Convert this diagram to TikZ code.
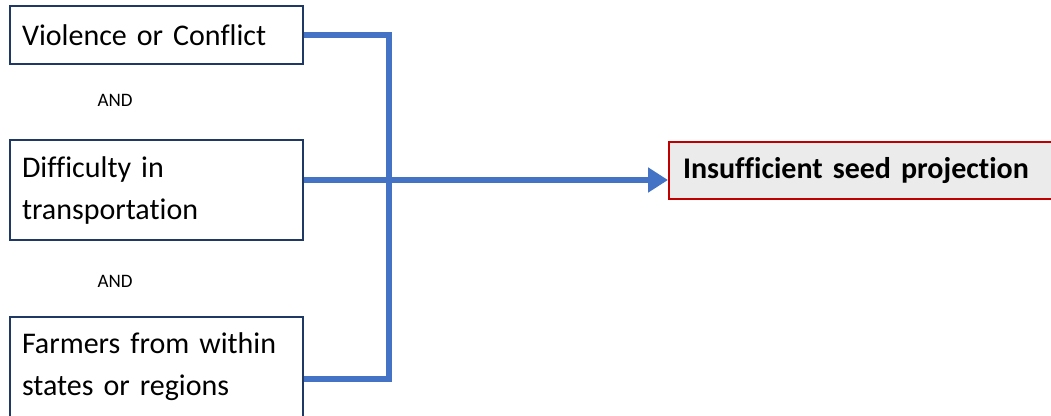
\documentclass[tikz,border=0pt]{standalone}
\usepackage{fontspec}
\setmainfont[Ligatures=CommonOff]{Carlito}
\usetikzlibrary{arrows.meta}
\definecolor{linkblue}{HTML}{4472C4}
\definecolor{boxblue}{HTML}{203864}
\definecolor{outred}{HTML}{C00000}
\definecolor{outgray}{HTML}{EBEBEB}
\begin{document}
\begin{tikzpicture}
[x=1pt,y=-1pt,
 cause/.style={draw=boxblue,line width=2pt,anchor=north west,text width=269pt,
   align=left,inner xsep=12pt,font=\fontsize{30}{42}\selectfont},
 effect/.style={draw=outred,fill=outgray,line width=2pt,anchor=north west,
   text width=406pt,align=left,inner xsep=14pt,minimum height=57pt,
   font=\fontsize{30}{34}\selectfont\bfseries},
 andlabel/.style={font=\fontsize{19}{22}\selectfont},
 link/.style={draw=linkblue,line width=6pt}]
\useasboundingbox (0,0) rectangle (1051,415);
\node[cause,minimum height=58pt] (violence) at (9,5) {Violence or Conflict};
\node[cause,minimum height=100pt] (transport) at (9,139) {Difficulty in\\transportation};
\node[cause,minimum height=100pt] (farmers) at (9,316) {Farmers from within\\states or regions};
\node[andlabel] (and1) at (115,100) {AND};
\node[andlabel] (and2) at (115,281) {AND};
\node[effect] (seed) at (668,141) {Insufficient seed projection};
\coordinate (join) at (389,180);
\draw[link] (violence.east) -| (join) |- ([yshift=-12pt]farmers.east);
\draw[link,-{Triangle[length=20pt,width=24pt]}] (transport.east |- join) -- (seed.west |- join);
\end{tikzpicture}
\end{document}
